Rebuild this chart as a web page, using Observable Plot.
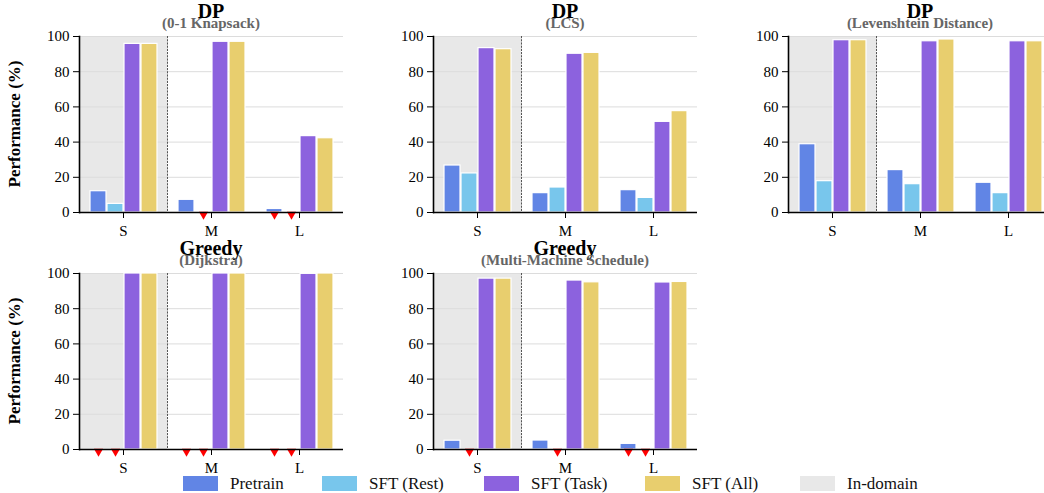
<!DOCTYPE html>
<html>
<head>
<meta charset="utf-8">
<script src="https://cdn.jsdelivr.net/npm/d3@7"></script>
<script src="https://cdn.jsdelivr.net/npm/@observablehq/plot@0.6"></script>
<style>
html, body { margin: 0; padding: 0; background: #fff; overflow: hidden; }
#root { position: relative; width: 1044px; height: 493px; overflow: hidden;
  font-family: "Liberation Serif", "Times New Roman", serif; color: #000; }
.panel { position: absolute; }
.panel svg { max-width: none !important; }
.title { position: absolute; width: 264px; text-align: center; font-weight: bold;
  font-size: 20px; line-height: 0.7; color: #000; white-space: nowrap; }
.subtitle { position: absolute; width: 264px; text-align: center; font-weight: bold;
  font-size: 15px; line-height: 0.75; color: #666; white-space: nowrap; }
.ylabel { position: absolute; width: 200px; height: 20px; line-height: 20px; text-align: center;
  font-weight: bold; font-size: 17px; transform: rotate(-90deg); white-space: nowrap; }
.lg-sw { position: absolute; width: 35px; height: 15px; }
.lg-tx { position: absolute; font-size: 17px; line-height: 1; white-space: nowrap; color: #111;
  font-family: "Liberation Serif", "Times New Roman", serif; }
</style>
</head>
<body>
<div id="root"></div>
<script>
// ---------- data ----------
const sizes = ["S", "M", "L"];
const seriesNames = ["Pretrain", "SFT (Rest)", "SFT (Task)", "SFT (All)"];
const seriesColors = ["#6185e5", "#78c6ec", "#8c62de", "#e8ce6e"];
const inDomainLabel = "In-domain";
const inDomainColor = "#e8e8e8";
const inDomainSize = "S";
const yTicks = [0, 20, 40, 60, 80, 100];
const yLabel = "Performance (%)";
const lowMarkThreshold = 4; // values below this get a red marker

const panelTitles = ["DP", "DP", "DP", "Greedy", "Greedy"];
const panelSubtitles = ["(0-1 Knapsack)", "(LCS)", "(Levenshtein Distance)", "(Dijkstra)", "(Multi-Machine Schedule)"];

const knapsackPretrain = [12.1, 7.2, 2.0];
const knapsackRest     = [4.9, 0, 0];
const knapsackTask     = [95.8, 97.0, 43.4];
const knapsackAll      = [95.8, 97.0, 42.2];

const lcsPretrain = [26.7, 11.0, 12.7];
const lcsRest     = [22.2, 14.2, 8.3];
const lcsTask     = [93.4, 90.2, 51.5];
const lcsAll      = [92.8, 90.7, 57.6];

const levPretrain = [38.8, 24.1, 16.9];
const levRest     = [17.8, 16.1, 11.0];
const levTask     = [97.9, 97.3, 97.3];
const levAll      = [97.9, 98.3, 97.3];

const dijkstraPretrain = [0, 0, 0];
const dijkstraRest     = [0, 0, 0];
const dijkstraTask     = [100, 100, 99.8];
const dijkstraAll      = [100, 100, 100];

const mmsPretrain = [5.0, 5.1, 3.2];
const mmsRest     = [0, 0, 0];
const mmsTask     = [97.1, 96.0, 94.9];
const mmsAll      = [97.1, 95.0, 95.2];

const panelSeries = [
  [knapsackPretrain, knapsackRest, knapsackTask, knapsackAll],
  [lcsPretrain, lcsRest, lcsTask, lcsAll],
  [levPretrain, levRest, levTask, levAll],
  [dijkstraPretrain, dijkstraRest, dijkstraTask, dijkstraAll],
  [mmsPretrain, mmsRest, mmsTask, mmsAll]
];

// ---------- layout ----------
const panelPos = [[0, 0], [354, 0], [709, 0], [0, 237], [354, 237]];
const M = {left: 79, right: 10, top: 36, bottom: 34};
const plotW = 264, plotH = 176;
const svgW = M.left + plotW + M.right, svgH = M.top + plotH + M.bottom;
const font = '"Liberation Serif", "Times New Roman", serif';

const root = document.getElementById("root");

panelSeries.forEach((series, p) => {
  const rows = [];
  sizes.forEach((size, i) => {
    seriesNames.forEach((name, j) => {
      rows.push({size, series: name, value: series[j][i]});
    });
  });
  const low = rows.filter(d => d.value < lowMarkThreshold);

  const chart = Plot.plot({
    width: svgW,
    height: svgH,
    marginLeft: M.left, marginRight: M.right, marginTop: M.top, marginBottom: M.bottom,
    style: `font-family: ${font}; font-size: 15px; color: #000; background: transparent; overflow: visible; max-width: none;`,
    fx: {domain: sizes, padding: 0, label: null},
    x: {domain: seriesNames, paddingInner: 0.08, paddingOuter: 0.5, axis: null},
    y: {domain: [0, 100], label: null},
    color: {domain: seriesNames, range: seriesColors},
    marks: [
      Plot.barY([{size: inDomainSize}], {fx: "size", y1: 0, y2: 100, fill: inDomainColor}),
      Plot.gridY(yTicks, {stroke: "#dcdcdc", strokeOpacity: 1, strokeWidth: 1}),
      Plot.frame({anchor: "left", fx: "M", stroke: "#555", strokeWidth: 1, strokeDasharray: "1.2,2"}),
      Plot.barY(rows, {fx: "size", x: "series", y: "value", fill: "series", stroke: "white", strokeWidth: 1.2}),
      Plot.dot(low, {fx: "size", x: "series", y: 0, symbol: "triangle", rotate: 180, r: 3.4, fill: "#ff0000", stroke: "none", dy: 2}),
      Plot.ruleY([0], {stroke: "#000", strokeWidth: 1.6}),
      Plot.frame({anchor: "left", fx: "S", stroke: "#000", strokeWidth: 1.6}),
      Plot.axisY({ticks: yTicks, tickSize: 6, tickPadding: 4, label: null, fontSize: 15}),
      Plot.axisFx({anchor: "bottom", tickSize: 6, tickPadding: 7, label: null, fontSize: 15})
    ]
  });
  const wrap = document.createElement("div");
  wrap.className = "panel";
  wrap.style.left = panelPos[p][0] + "px";
  wrap.style.top = panelPos[p][1] + "px";
  wrap.style.width = svgW + "px";
  wrap.style.height = svgH + "px";
  wrap.appendChild(chart);
  root.appendChild(wrap);

  const plotLeft = panelPos[p][0] + M.left;
  const t = document.createElement("div");
  t.className = "title";
  t.textContent = panelTitles[p];
  t.style.left = plotLeft + "px";
  t.style.top = (panelPos[p][1] + 4.3) + "px";
  root.appendChild(t);
  const s = document.createElement("div");
  s.className = "subtitle";
  s.textContent = panelSubtitles[p];
  s.style.left = plotLeft + "px";
  s.style.top = (panelPos[p][1] + 18.4) + "px";
  root.appendChild(s);

  if (panelPos[p][0] === 0) {
    const yl = document.createElement("div");
    yl.className = "ylabel";
    yl.textContent = yLabel;
    yl.style.left = (15 - 100) + "px";
    yl.style.top = (panelPos[p][1] + M.top + plotH / 2 - 10) + "px";
    root.appendChild(yl);
  }
});

// ---------- legend ----------
const legendNames = [...seriesNames, inDomainLabel];
const legendColors = [...seriesColors, inDomainColor];
const legendLefts = [183, 322, 484, 645, 800];
legendNames.forEach((name, k) => {
  const sw = document.createElement("div");
  sw.className = "lg-sw";
  sw.style.background = legendColors[k];
  sw.style.left = legendLefts[k] + "px";
  sw.style.top = "476px";
  root.appendChild(sw);
  const tx = document.createElement("div");
  tx.className = "lg-tx";
  tx.textContent = name;
  tx.style.left = (legendLefts[k] + 47) + "px";
  tx.style.top = "475px";
  root.appendChild(tx);
});
</script>
</body>
</html>
